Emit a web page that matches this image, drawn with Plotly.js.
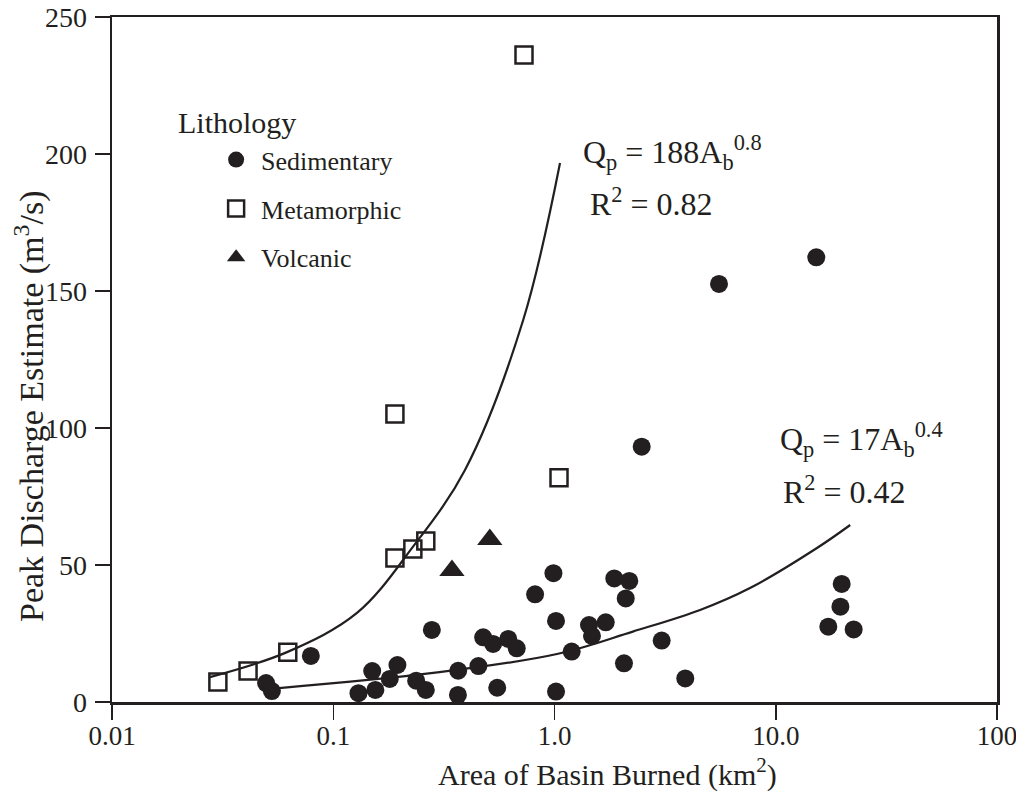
<!DOCTYPE html>
<html>
<head>
<meta charset="utf-8">
<script src="https://cdn.plot.ly/plotly-3.0.1.min.js"></script>
<style>html,body{margin:0;padding:0;background:#fff;}#chart{width:1016px;height:798px;}</style>
</head>
<body>
<div id="chart"></div>
<script>
// Sedimentary basins
const sedArea = [0.0497, 0.0528, 0.0792, 0.130, 0.150, 0.155, 0.180, 0.195, 0.237, 0.262,
                 0.279, 0.367, 0.366, 0.453, 0.476, 0.528, 0.551, 0.618, 0.675, 0.817,
                 0.989, 1.016, 1.016, 1.196, 1.432, 1.477, 1.704, 1.863, 2.178, 2.099,
                 2.061, 2.478, 3.051, 3.90, 5.54, 15.25, 17.28, 19.6, 19.86, 22.5];
const sedQ    = [6.9, 4.0, 16.8, 3.2, 11.3, 4.4, 8.4, 13.5, 7.8, 4.4,
                 26.3, 11.4, 2.6, 13.1, 23.6, 21.2, 5.2, 23.0, 19.6, 39.3,
                 47.0, 29.6, 3.8, 18.4, 28.1, 24.1, 29.1, 45.1, 44.2, 37.8,
                 14.1, 93.2, 22.4, 8.6, 152.6, 162.3, 27.5, 34.8, 43.1, 26.5];
// Metamorphic basins
const metArea = [0.0301, 0.0412, 0.0623, 0.190, 0.229, 0.262, 0.190, 0.728, 1.048];
const metQ    = [7.3, 11.3, 18.2, 52.6, 55.8, 58.8, 105.1, 236.1, 81.8];
// Volcanic basins
const volArea = [0.344, 0.510];
const volQ    = [48.0, 59.3];
// Fit curve, metamorphic (Qp = 188 Ab^0.8)
const fitMetArea = [0.0277, 0.0618, 0.128, 0.229, 0.394, 0.722, 1.059];
const fitMetQ    = [9.1, 18.2, 32.5, 56.6, 84.7, 139.4, 196.7];
// Fit curve, sedimentary (Qp = 17 Ab^0.4)
const fitSedArea = [0.0569, 0.283, 1.026, 2.26, 4.55, 7.65, 15.36, 21.7];
const fitSedQ    = [5.1, 10.6, 17.5, 25.7, 33.6, 41.6, 56.2, 64.6];
// Tick labels
const xTickVals = [0.01, 0.1, 1, 10, 100];
const xTickText = ['0.01', '0.1', '1.0', '10.0', '100'];
const yTickVals = [0, 50, 100, 150, 200, 250];
const yTickText = ['0', '50', '100', '150', '200', '250'];

const INK = '#231f20';
const FONT = 'Liberation Serif, Times New Roman, serif';

const traces = [
  {x: fitMetArea, y: fitMetQ, type: 'scatter', mode: 'lines', showlegend: false, hoverinfo: 'skip',
   line: {color: INK, width: 2.2, shape: 'spline', smoothing: 1}},
  {x: fitSedArea, y: fitSedQ, type: 'scatter', mode: 'lines', showlegend: false, hoverinfo: 'skip',
   line: {color: INK, width: 2.2, shape: 'spline', smoothing: 1}},
  {x: sedArea, y: sedQ, type: 'scatter', mode: 'markers', name: 'Sedimentary', legendgroup: 'a',
   cliponaxis: false, marker: {symbol: 'circle', size: 18, color: INK}},
  {x: metArea, y: metQ, type: 'scatter', mode: 'markers', name: 'Metamorphic', legendgroup: 'b',
   cliponaxis: false, marker: {symbol: 'square-open', size: 17, color: INK, line: {color: INK, width: 2.5}}},
  {x: volArea, y: volQ, type: 'scatter', mode: 'markers', name: 'Volcanic', legendgroup: 'c',
   cliponaxis: false, marker: {symbol: 'triangle-up', size: 22, color: INK}}
];

const layout = {
  width: 1016, height: 798,
  margin: {l: 112, r: 19, t: 17, b: 96, pad: 0},
  paper_bgcolor: '#ffffff', plot_bgcolor: '#ffffff',
  font: {family: FONT, color: INK, size: 27},
  xaxis: {
    type: 'log', range: [-2, 2.00001], tickvals: xTickVals, ticktext: xTickText,
    showgrid: false, zeroline: false, showline: true, mirror: true, linecolor: INK, linewidth: 2.5,
    ticks: 'outside', ticklen: 15, tickwidth: 1.5, tickcolor: INK, ticklabelstandoff: -7,
    ticklabeloverflow: 'allow',
    tickfont: {family: FONT, size: 27, color: INK}
  },
  yaxis: {
    range: [0, 250], tickvals: yTickVals, ticktext: yTickText,
    showgrid: false, zeroline: false, showline: true, mirror: true, linecolor: INK, linewidth: 2.5,
    ticks: 'outside', ticklen: 15, tickwidth: 1.5, tickcolor: INK, ticklabelstandoff: 2,
    ticklabeloverflow: 'allow',
    tickfont: {family: FONT, size: 28, color: INK}
  },
  showlegend: true,
  legend: {
    x: 0.112, xanchor: 'left', y: 0.826, yanchor: 'top',
    bgcolor: 'rgba(0,0,0,0)', borderwidth: 0,
    font: {family: FONT, size: 26, color: INK},
    tracegroupgap: 12, itemsizing: 'trace', itemwidth: 40
  },
  annotations: [
    {text: 'Lithology', xref: 'paper', yref: 'paper', x: (176 - 112) / 885, y: (702 - 123) / 685,
     xanchor: 'left', yanchor: 'middle', showarrow: false, font: {family: FONT, size: 30, color: INK}},
    {text: 'Q<sub>p</sub> = 188A<sub>b</sub><sup>0.8</sup>', xref: 'paper', yref: 'paper',
     x: (581 - 112) / 885, y: (702 - 152) / 685, xanchor: 'left', yanchor: 'middle', showarrow: false,
     font: {family: FONT, size: 32, color: INK}},
    {text: 'R<sup>2</sup> = 0.82', xref: 'paper', yref: 'paper',
     x: (588 - 112) / 885, y: (702 - 202) / 685, xanchor: 'left', yanchor: 'middle', showarrow: false,
     font: {family: FONT, size: 32, color: INK}},
    {text: 'Q<sub>p</sub> = 17A<sub>b</sub><sup>0.4</sup>', xref: 'paper', yref: 'paper',
     x: (778 - 112) / 885, y: (702 - 440) / 685, xanchor: 'left', yanchor: 'middle', showarrow: false,
     font: {family: FONT, size: 32, color: INK}},
    {text: 'R<sup>2</sup> = 0.42', xref: 'paper', yref: 'paper',
     x: (781 - 112) / 885, y: (702 - 490) / 685, xanchor: 'left', yanchor: 'middle', showarrow: false,
     font: {family: FONT, size: 32, color: INK}},
    {text: 'Area of Basin Burned (km<sup>2</sup>)', xref: 'paper', yref: 'paper',
     x: (607 - 112) / 885, y: (702 - 772) / 685, xanchor: 'center', yanchor: 'middle', showarrow: false,
     font: {family: FONT, size: 30, color: INK}},
    {text: 'Peak Discharge Estimate (m<sup>3</sup>/s)', xref: 'paper', yref: 'paper', textangle: -90,
     x: (29 - 112) / 885, y: (702 - 407) / 685, xanchor: 'center', yanchor: 'middle', showarrow: false,
     font: {family: FONT, size: 34, color: INK}}
  ]
};

Plotly.newPlot('chart', traces, layout, {displayModeBar: false, staticPlot: true});
</script>
</body>
</html>
